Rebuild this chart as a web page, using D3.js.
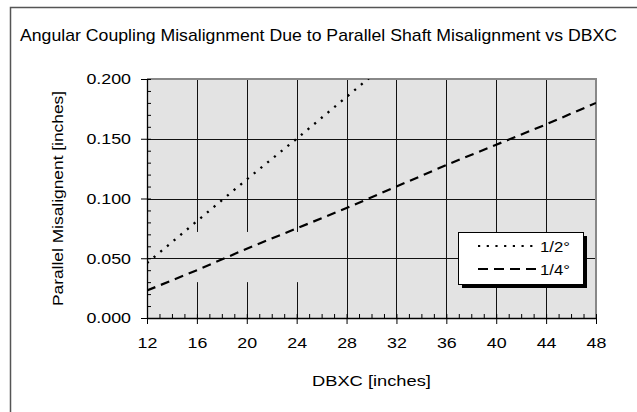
<!DOCTYPE html>
<html><head><meta charset="utf-8">
<script src="https://cdn.jsdelivr.net/npm/d3@7"></script>
<style>
body{margin:0;background:#fff}
svg{display:block}
text{font-family:"Liberation Sans",Arial,sans-serif;fill:#000}
</style>
</head><body>
<svg id="c" width="637" height="412"></svg>
<script>
// ---- data ----
const dbxc = [12, 16, 20, 24, 28, 32, 36, 40, 44, 48];
const halfDeg = [0.046, 0.081, 0.116, 0.150, 0.185, 0.220, 0.255, 0.290, 0.325, 0.360];
const quarterDeg = [0.023, 0.040, 0.058, 0.075, 0.092, 0.110, 0.128, 0.145, 0.162, 0.180];
const seriesNames = ["1/2°", "1/4°"];
const xTicks = [12, 16, 20, 24, 28, 32, 36, 40, 44, 48];
const yTicks = [0.000, 0.050, 0.100, 0.150, 0.200];
const chartTitle = "Angular Coupling Misalignment Due to Parallel Shaft Misalignment vs DBXC";
const xTitle = "DBXC [inches]";
const yTitle = "Parallel Misalignent [inches]";
// vertical gridlines are broken in this band in the original picture
const gapX = [14, 26];
const gapY = [0.030, 0.072];

// ---- layout ----
const W = 637, H = 412;
const L = 147, R = 596, T = 79, B = 318;
const svg = d3.select("#c");

function stretch(sel, f) {
  sel.each(function () {
    const w = this.getComputedTextLength();
    d3.select(this).attr("textLength", w * f).attr("lengthAdjust", "spacingAndGlyphs");
  });
}

// outer frame
svg.append("rect").attr("x", 10.5).attr("y", 7.5).attr("width", 700).attr("height", 500)
  .attr("fill", "none").attr("stroke", "#555").attr("stroke-width", 1.5);

const x = d3.scaleLinear().domain([12, 48]).range([L, R]);
const y = d3.scaleLinear().domain([0, 0.2]).range([B, T]);

// plot background
svg.append("rect").attr("x", L).attr("y", T).attr("width", R - L).attr("height", B - T)
  .attr("fill", "#e3e3e3");

// gridlines
const grid = svg.append("g").attr("stroke", "#111").attr("stroke-width", 1);
const vSegs = [];
xTicks.slice(1, -1).forEach(d => {
  if (d > gapX[0] && d < gapX[1]) {
    vSegs.push([d, 0.2, gapY[1]], [d, gapY[0], 0]);
  } else {
    vSegs.push([d, 0.2, 0]);
  }
});
grid.selectAll("line.v").data(vSegs).join("line")
  .attr("x1", d => Math.round(x(d[0])) + 0.5).attr("x2", d => Math.round(x(d[0])) + 0.5)
  .attr("y1", d => y(d[1])).attr("y2", d => y(d[2]));
grid.selectAll("line.h").data(yTicks.slice(1, -1)).join("line")
  .attr("y1", d => Math.round(y(d)) + 0.5).attr("y2", d => Math.round(y(d)) + 0.5)
  .attr("x1", L).attr("x2", R);

// plot border top/right
svg.append("path").attr("d", `M${L},${T}H${R}V${B}`).attr("fill", "none")
  .attr("stroke", "#888").attr("stroke-width", 2);

// clip
svg.append("clipPath").attr("id", "clip").append("rect")
  .attr("x", L).attr("y", T).attr("width", R - L).attr("height", B - T);

const line = d3.line().x(d => x(d[0])).y(d => y(d[1]));
const g = svg.append("g").attr("clip-path", "url(#clip)");
g.append("path").datum(dbxc.map((d, i) => [d, halfDeg[i]])).attr("d", line)
  .attr("fill", "none").attr("stroke", "#000").attr("stroke-width", 2.3)
  .attr("stroke-dasharray", "2.2,6.5");
g.append("path").datum(dbxc.map((d, i) => [d, quarterDeg[i]])).attr("d", line)
  .attr("fill", "none").attr("stroke", "#000").attr("stroke-width", 2.2)
  .attr("stroke-dasharray", "9,6");

// axes
const minorX = d3.range(12, 48.001, 1);
const minorY = d3.range(0, 0.2001, 0.01);
svg.append("g").attr("transform", `translate(0,${B})`)
  .call(d3.axisBottom(x).tickValues(minorX).tickSize(-4).tickFormat(""))
  .call(a => a.select(".domain").remove())
  .selectAll("line").attr("stroke", "#000");
svg.append("g").attr("transform", `translate(${L},0)`)
  .call(d3.axisLeft(y).tickValues(minorY).tickSize(-4).tickFormat(""))
  .call(a => a.select(".domain").remove())
  .selectAll("line").attr("stroke", "#000");

const xa = svg.append("g").attr("transform", `translate(0,${B})`)
  .call(d3.axisBottom(x).tickValues(xTicks).tickSize(6).tickSizeOuter(0).tickPadding(13).tickFormat(d3.format("d")));
const ya = svg.append("g").attr("transform", `translate(${L},0)`)
  .call(d3.axisLeft(y).tickValues(yTicks).tickSize(6).tickSizeOuter(0).tickPadding(10).tickFormat(d3.format(".3f")));
[xa, ya].forEach(a => {
  a.select(".domain").attr("stroke", "#000").attr("stroke-width", 1.3);
  a.selectAll("line").attr("stroke", "#000");
  a.selectAll("text").attr("font-size", 15.5).attr("font-family", '"Liberation Sans",Arial,sans-serif');
  stretch(a.selectAll("text"), 1.15);
});

// titles
const tt = svg.append("text").attr("x", 20).attr("y", 41).attr("font-size", 17).text(chartTitle);
tt.attr("textLength", 597).attr("lengthAdjust", "spacingAndGlyphs");
const xt = svg.append("text").attr("x", (L + R) / 2).attr("y", 386).attr("text-anchor", "middle")
  .attr("font-size", 15.5).text(xTitle);
stretch(xt, 1.18);
const yt = svg.append("text").attr("transform", `translate(63,${(T + B) / 2}) rotate(-90)`)
  .attr("text-anchor", "middle").attr("font-size", 15.5).text(yTitle);
stretch(yt, 1.12);

// legend
const lg = svg.append("g");
lg.append("rect").attr("x", 462).attr("y", 236).attr("width", 125).attr("height", 52).attr("fill", "#000");
lg.append("rect").attr("x", 458.5).attr("y", 232.5).attr("width", 125).attr("height", 52)
  .attr("fill", "#fff").attr("stroke", "#000").attr("stroke-width", 1);
const dashes = ["2.2,6.5", "10,6"];
const sy = [246, 269];
seriesNames.forEach((n, i) => {
  lg.append("line").attr("x1", 478).attr("x2", i ? 537 : 536).attr("y1", sy[i]).attr("y2", sy[i])
    .attr("stroke", "#000").attr("stroke-width", 2.2).attr("stroke-dasharray", dashes[i]);
  const t = lg.append("text").attr("x", 540).attr("y", sy[i] + 5.5).attr("font-size", 15.5).text(n);
  stretch(t, 1.08);
});
</script>
</body></html>
